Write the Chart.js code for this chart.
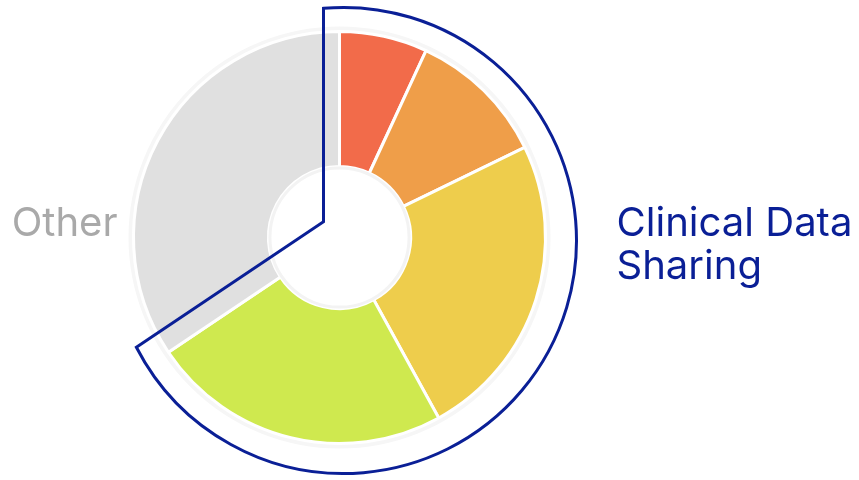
<!DOCTYPE html>
<html>
<head>
<meta charset="utf-8">
<script src="https://cdn.jsdelivr.net/npm/chart.js@4.4.1/dist/chart.umd.min.js"></script>
<style>
    html, body { margin: 0; padding: 0; background: #ffffff; }
    #wrap { width: 859px; height: 480px; }
</style>
</head>
<body>
<div id="wrap"><canvas id="ShareChart" width="859" height="480"></canvas></div>
<script>
var SliceNames = ['Clinical Data Sharing 1', 'Clinical Data Sharing 2', 'Clinical Data Sharing 3', 'Clinical Data Sharing 4', 'Other']
var SliceValues = [6.9, 10.9, 24.2, 23.6, 34.4]
var SliceColors = ['#f26b4a', '#ef9e49', '#eecd4c', '#cfe94f', '#e0e0e0']
var GroupLabelLines = ['Clinical Data', 'Sharing']
var OtherLabel = 'Other'
var GroupSliceCount = 4

var BLUE = '#0a1f96'
var FONT_FAMILY = 'Inter, "Noto Sans", sans-serif'

// where an offset edge line meets the outline circle (circle centre shifted by sx, sy)
function hitCircle(nx, ny, d, dx, dy, sx, sy, Ro) {
    var qx = nx * d - sx, qy = ny * d - sy
    var b = dx * qx + dy * qy
    var t = -b + Math.sqrt(b * b - (qx * qx + qy * qy) + Ro * Ro)
    return [nx * d + dx * t, ny * d + dy * t]
}

var groupOutlinePlugin = {
    id: 'groupOutline',

    beforeDatasetsDraw: function (chart) {
        var arc = chart.getDatasetMeta(0).data[0]
        var ctx = chart.ctx
        ctx.save()
        // faint halo round the ring
        ctx.beginPath()
        ctx.arc(arc.x, arc.y, arc.outerRadius + 2, 0, Math.PI * 2)
        ctx.strokeStyle = '#f6f6f6'
        ctx.lineWidth = 6
        ctx.stroke()
        ctx.restore()
    },

    afterDatasetsDraw: function (chart) {
        var arcs = chart.getDatasetMeta(0).data
        var ctx = chart.ctx
        var cx = arcs[0].x, cy = arcs[0].y
        var R = arcs[0].outerRadius, r = arcs[0].innerRadius

        ctx.save()
        // light ring inside the hole
        ctx.beginPath()
        ctx.arc(cx, cy, r - 1.5, 0, Math.PI * 2)
        ctx.strokeStyle = '#f3f3f3'
        ctx.lineWidth = 3
        ctx.stroke()

        // outline around the Clinical Data Sharing slices
        var a0 = arcs[0].startAngle
        var a1 = arcs[GroupSliceCount - 1].endAngle
        var d0 = 16, d1 = 22
        var sx = 4, sy = 3
        var Ro = R + 27
        var n0 = [Math.sin(a0), -Math.cos(a0)]
        var n1 = [-Math.sin(a1), Math.cos(a1)]
        var det = n0[0] * n1[1] - n0[1] * n1[0]
        var vx = (d0 * n1[1] - n0[1] * d1) / det
        var vy = (n0[0] * d1 - d0 * n1[0]) / det

        var p0 = hitCircle(n0[0], n0[1], d0, Math.cos(a0), Math.sin(a0), sx, sy, Ro)
        var p1 = hitCircle(n1[0], n1[1], d1, Math.cos(a1), Math.sin(a1), sx, sy, Ro)

        ctx.beginPath()
        ctx.moveTo(cx + vx, cy + vy)
        ctx.lineTo(cx + p0[0], cy + p0[1])
        ctx.arc(cx + sx, cy + sy, Ro, Math.atan2(p0[1] - sy, p0[0] - sx), Math.atan2(p1[1] - sy, p1[0] - sx), false)
        ctx.closePath()
        ctx.strokeStyle = BLUE
        ctx.lineWidth = 3
        ctx.lineJoin = 'miter'
        ctx.stroke()

        // labels
        ctx.font = '100px ' + FONT_FAMILY
        var size = 100 * 236 / ctx.measureText(GroupLabelLines[0]).width
        ctx.font = size + 'px ' + FONT_FAMILY
        ctx.textBaseline = 'alphabetic'

        ctx.fillStyle = '#a9a9a9'
        ctx.textAlign = 'right'
        ctx.fillText(OtherLabel, cx - 222, cy - 2)

        ctx.fillStyle = BLUE
        ctx.textAlign = 'left'
        for (var i = 0; i < GroupLabelLines.length; i++) {
            ctx.fillText(GroupLabelLines[i], cx + 277, cy - 2 + i * 43)
        }
        ctx.restore()
    }
}

var config_Share = {
    type: 'doughnut',

    data: {
        labels: SliceNames,
        datasets: [{
            data: SliceValues,
            backgroundColor: SliceColors,
            borderColor: '#ffffff',
            borderWidth: 3,
            hoverOffset: 0,
            offset: 0,
        }],
    },

    plugins: [groupOutlinePlugin],
    options: {
        responsive: false,
        animation: false,
        cutout: '34.5%',
        layout: {
            padding: {
                left: 132,
                right: 312,
                top: 30,
                bottom: 35
            }
        },
        plugins: {
            legend: {
                display: false,
            },
            tooltip: {
                enabled: false,
            },
        },
    },
}

var ShareChartElement = document.getElementById('ShareChart').getContext('2d')
new Chart(ShareChartElement, config_Share)
</script>
</body>
</html>
